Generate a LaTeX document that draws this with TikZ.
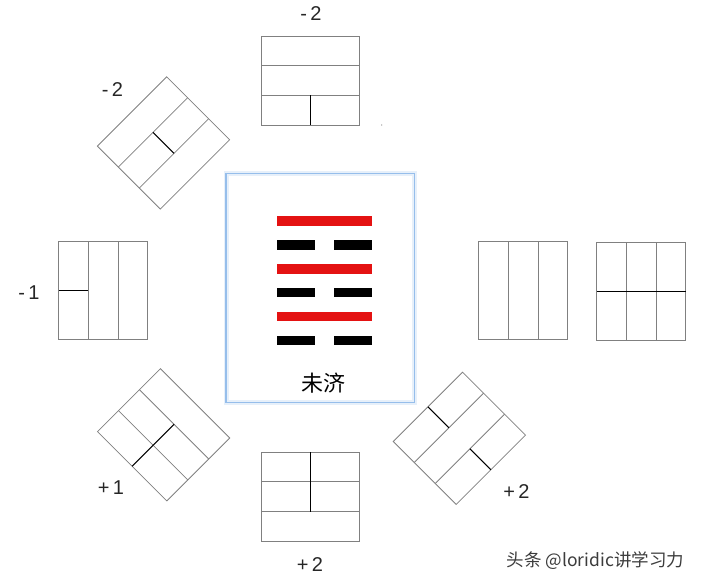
\documentclass[tikz,border=0pt]{standalone}
\usepackage{fontspec}
\setmainfont{Liberation Sans}
\newfontfamily\cjk{Noto Sans CJK SC}
\definecolor{cellgray}{RGB}{128,128,128}
\definecolor{guared}{RGB}{228,18,18}
\definecolor{frameblue}{RGB}{150,190,235}
\definecolor{markgray}{RGB}{60,60,60}
% one six-line box: centre, angle, rows that carry the split (0 top, 1 middle, 2 bottom)
\newcommand{\guabox}[3]{%
  \begin{scope}[shift={#1},rotate=#2]
    \draw[cell] (-49,-44.5) rectangle (49,44.5);
    \draw[cell] (-49,-14.83)--(49,-14.83) (-49,14.83)--(49,14.83);
    \foreach \row in {#3}{\ifx\row\empty\else
      \draw[yinline] (0,-44.5+29.67*\row)--(0,-14.83+29.67*\row);\fi}
  \end{scope}}

\begin{document}
\begin{tikzpicture}[x=1pt,y=-1pt,
    cell/.style={draw=cellgray,line width=0.8pt},
    yinline/.style={draw=black,line width=1pt},
    lbl/.style={font=\fontsize{20}{20}\selectfont,text=black!85,inner sep=0pt}]
  \useasboundingbox (0,0) rectangle (703,583);
  % ring of boxes
  \guabox{(310.2,80.5)}{0}{2}
  \guabox{(163.5,142.9)}{45}{1}
  \guabox{(103.3,290.3)}{90}{0}
  \guabox{(163.6,434.8)}{135}{0,1}
  \guabox{(310.2,496.7)}{0}{0,1}
  \guabox{(459.4,438.3)}{45}{0,2}
  \guabox{(523.2,290.3)}{90}{}
  \guabox{(641.3,291.8)}{90}{0,1,2}
  \fill[cellgray] (381.7,125) circle (0.7);
  % numbers
  \node[lbl] (nTop) at (311,14) {-\,2};
  \node[lbl] (nTopLeft) at (112.5,90) {-\,2};
  \node[lbl] (nLeft) at (29,292.5) {-\,1};
  \node[lbl] (nBotLeft) at (111,488) {+\,1};
  \node[lbl] (nBot) at (310,564.5) {+\,2};
  \node[lbl] (nBotRight) at (516.5,491.5) {+\,2};
  % centre card
  \fill[white] (226,173.3) rectangle (414.3,402.3);
  \draw[frameblue!45,line width=5pt,opacity=0.5] (226,173.3) rectangle (414.3,402.3);
  \draw[frameblue,line width=1.2pt] (226,173.3) rectangle (414.3,402.3);
  \foreach \y in {221,269,316.7}
    \fill[guared] (276.7,\y-4.7) rectangle (371.7,\y+4.7);
  \foreach \y in {245,292.7,340.3}{
    \fill[black] (276.7,\y-4.7) rectangle (315,\y+4.7);
    \fill[black] (334,\y-4.7) rectangle (371.7,\y+4.7);}
  \node[font=\cjk\fontsize{22}{22}\selectfont] (guaName) at (323.3,383.3) {未济};
  \node[font=\cjk\fontsize{17.5}{17.5}\selectfont,text=markgray,anchor=west,inner sep=0pt] (mark) at (506.7,560.7) {头条 @loridic讲学习力};
\end{tikzpicture}
\end{document}
